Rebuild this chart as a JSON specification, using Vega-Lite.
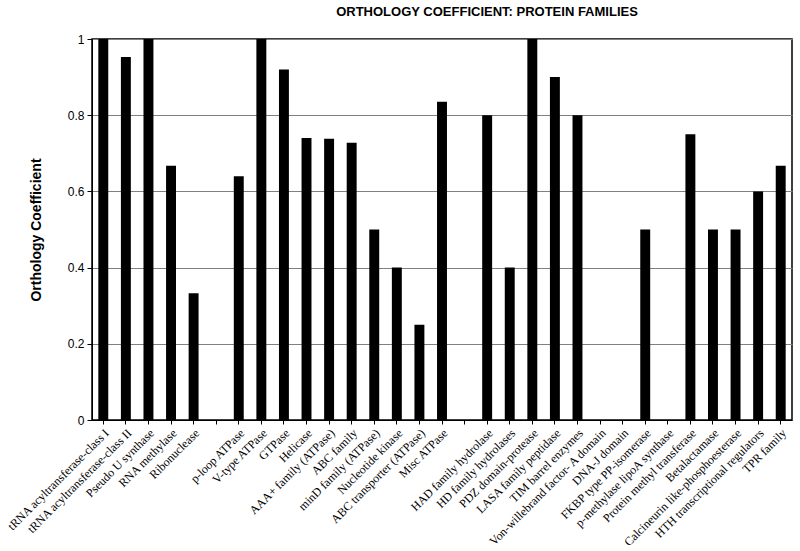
{
  "$schema": "https://vega.github.io/schema/vega-lite/v6.json",
  "autosize": {"type": "none"},
  "padding": {"left": 92, "top": 39, "right": 8, "bottom": 131},
  "width": 700,
  "height": 381,
  "background": "white",
  "title": {
    "text": "ORTHOLOGY COEFFICIENT: PROTEIN FAMILIES",
    "font": "Liberation Sans",
    "fontSize": 13,
    "fontWeight": "bold",
    "color": "black",
    "anchor": "middle",
    "dx": 45,
    "offset": 14
  },
  "data": {
    "values": [
      {"family": "tRNA acyltransferase-class I", "value": 1},
      {"family": "tRNA acyltransferase-class II", "value": 0.953},
      {"family": "Pseudo U synthase", "value": 1},
      {"family": "RNA methylase", "value": 0.667},
      {"family": "Ribonuclease", "value": 0.333},
      {"family": "_gap1", "value": 0},
      {"family": "p-loop ATPase", "value": 0.64},
      {"family": "V-type ATPase", "value": 1},
      {"family": "GTPase", "value": 0.92},
      {"family": "Helicase", "value": 0.74},
      {"family": "AAA+ family (ATPase)", "value": 0.738},
      {"family": "ABC family", "value": 0.728},
      {"family": "minD family (ATPase)", "value": 0.5},
      {"family": "Nucleotide kinase", "value": 0.4},
      {"family": "ABC transporter (ATPase)", "value": 0.25},
      {"family": "Misc ATPase", "value": 0.835},
      {"family": "_gap2", "value": 0},
      {"family": "HAD family hydrolase", "value": 0.8},
      {"family": "HD family hydrolases", "value": 0.4},
      {"family": "PDZ domain-protease", "value": 1},
      {"family": "LASA family peptidase", "value": 0.9},
      {"family": "TIM barrel enzymes", "value": 0.8},
      {"family": "Von-willebrand factor- A domain", "value": 0},
      {"family": "DNA-J domain", "value": 0},
      {"family": "FKBP type PP-isomerase", "value": 0.5},
      {"family": "p-methylase lipoA synthase", "value": 0},
      {"family": "Protein methyl transferase", "value": 0.75},
      {"family": "Betalactamase", "value": 0.5},
      {"family": "Calcineurin like-phosphoesterase", "value": 0.5},
      {"family": "HTH transcriptional regulators", "value": 0.6},
      {"family": "TPR family", "value": 0.667}
    ]
  },
  "mark": {"type": "bar", "color": "black"},
  "encoding": {
    "x": {
      "field": "family",
      "type": "nominal",
      "sort": null,
      "scale": {"paddingInner": 0.56, "paddingOuter": 0.28},
      "axis": {
        "title": null,
        "labelAngle": -45,
        "labelAlign": "right",
        "labelBaseline": "top",
        "labelFont": "Liberation Serif",
        "labelFontSize": 12,
        "labelColor": "black",
        "labelExpr": "indexof(datum.value, '_gap') == 0 ? '' : datum.value",
        "labelPadding": 3,
        "labelOverlap": false,
        "labelLimit": 300,
        "tickColor": "black",
        "tickSize": 4,
        "domainColor": "black",
        "grid": false
      }
    },
    "y": {
      "field": "value",
      "type": "quantitative",
      "scale": {"domain": [0, 1], "nice": false},
      "axis": {
        "title": "Orthology Coefficient",
        "titleFont": "Liberation Sans",
        "titleFontSize": 14,
        "titleFontWeight": "bold",
        "titleColor": "black",
        "titlePadding": 24,
        "values": [0, 0.2, 0.4, 0.6, 0.8, 1],
        "labelFont": "Liberation Sans",
        "labelFontSize": 12,
        "labelColor": "black",
        "labelExpr": "datum.value == 0 ? '0' : datum.value == 1 ? '1' : format(datum.value, '.1f')",
        "tickColor": "black",
        "tickSize": 5,
        "labelPadding": 3,
        "domainColor": "black",
        "grid": true,
        "gridColor": "#808080",
        "gridWidth": 1
      }
    }
  },
  "config": {
    "view": {"stroke": "black", "strokeWidth": 1.5}
  }
}
